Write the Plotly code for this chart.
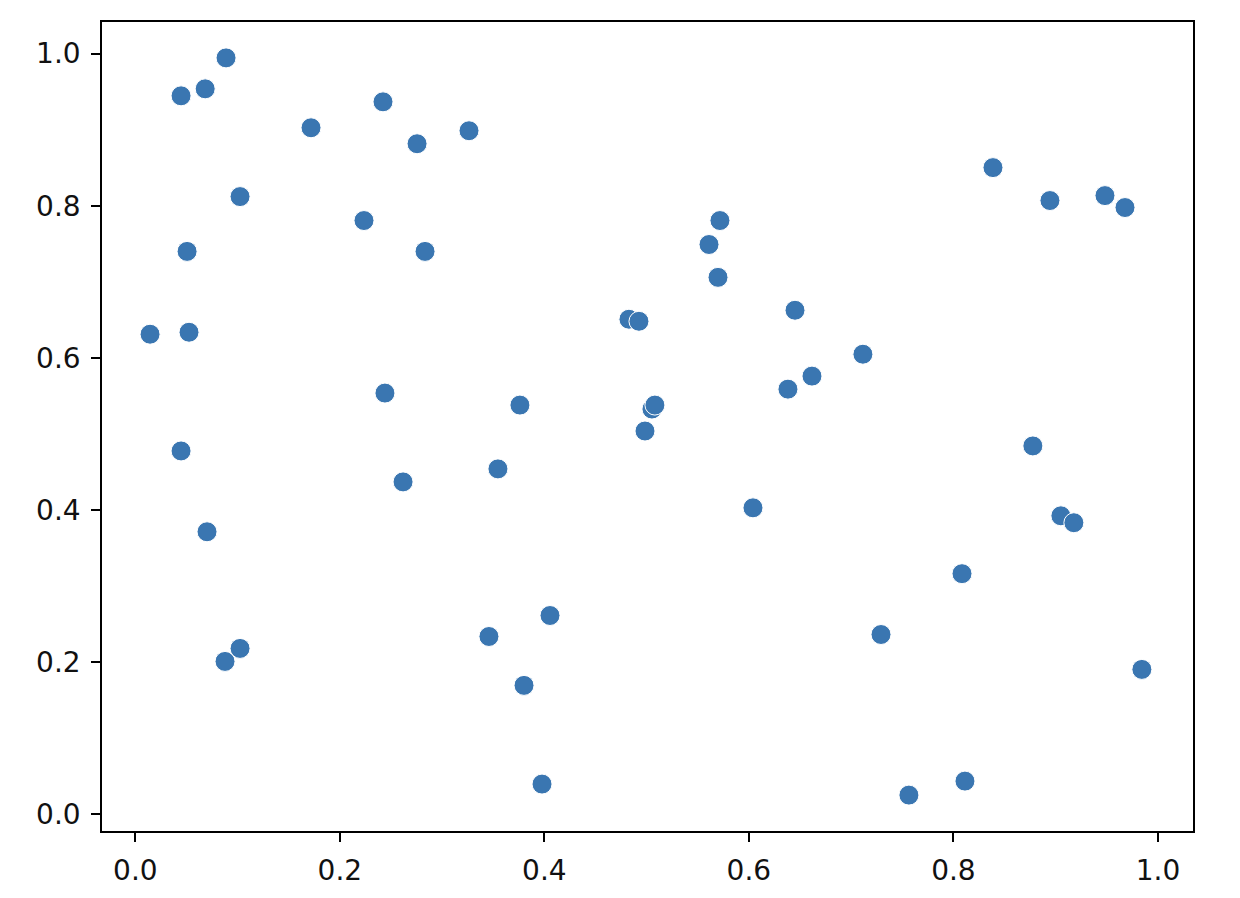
import plotly.graph_objects as go

x_vals = [0.0887, 0.0447, 0.0683, 0.1718, 0.2422, 0.2755, 0.3263, 0.1024, 0.2236, 0.2833,
          0.0506, 0.0144, 0.0525, 0.2441, 0.0447, 0.2618, 0.0701, 0.3546, 0.3761, 0.3458,
          0.4055, 0.3801, 0.3977, 0.0877, 0.1024, 0.4827, 0.4925, 0.5052, 0.5081, 0.4984,
          0.5610, 0.5717, 0.5698, 0.6451, 0.6382, 0.6617, 0.7115, 0.6040, 0.7292, 0.7565,
          0.8113, 0.8084, 0.8387, 0.8944, 0.9482, 0.9678, 0.8777, 0.9051, 0.9178, 0.9843]
y_vals = [0.9944, 0.9445, 0.9537, 0.9025, 0.9366, 0.8815, 0.8986, 0.8120, 0.7805, 0.7399,
          0.7399, 0.6310, 0.6336, 0.5536, 0.4775, 0.4368, 0.3712, 0.4539, 0.5378, 0.2335,
          0.2611, 0.1692, 0.0394, 0.2007, 0.2178, 0.6507, 0.6480, 0.5326, 0.5378, 0.5037,
          0.7490, 0.7805, 0.7058, 0.6625, 0.5588, 0.5759, 0.6047, 0.4027, 0.2361, 0.0249,
          0.0433, 0.3161, 0.8501, 0.8068, 0.8133, 0.7976, 0.4841, 0.3922, 0.3831, 0.1902]
tick_vals = [0.0, 0.2, 0.4, 0.6, 0.8, 1.0]
tick_text = ["0.0", "0.2", "0.4", "0.6", "0.8", "1.0"]

fig = go.Figure(go.Scatter(
    x=x_vals, y=y_vals, mode="markers",
    marker=dict(size=20, color="#3a76b1", line=dict(color="white", width=1)),
    showlegend=False,
))

axis_common = dict(
    showgrid=False, zeroline=False, showline=True, mirror=True,
    linecolor="black", linewidth=1.6, ticks="outside", ticklen=9, tickwidth=1.6,
    tickcolor="black", tickvals=tick_vals, ticktext=tick_text,
    tickfont=dict(family="DejaVu Sans", size=28, color="#111111"),
    ticklabelstandoff=5,
)

fig.update_layout(
    width=1240, height=898,
    margin=dict(l=94, r=55, t=12, b=75),
    paper_bgcolor="white", plot_bgcolor="white",
    xaxis=dict(range=[-0.0326, 1.0343], **axis_common),
    yaxis=dict(range=[-0.0223, 1.0416], **axis_common),
)

fig.write_html("out.html")
